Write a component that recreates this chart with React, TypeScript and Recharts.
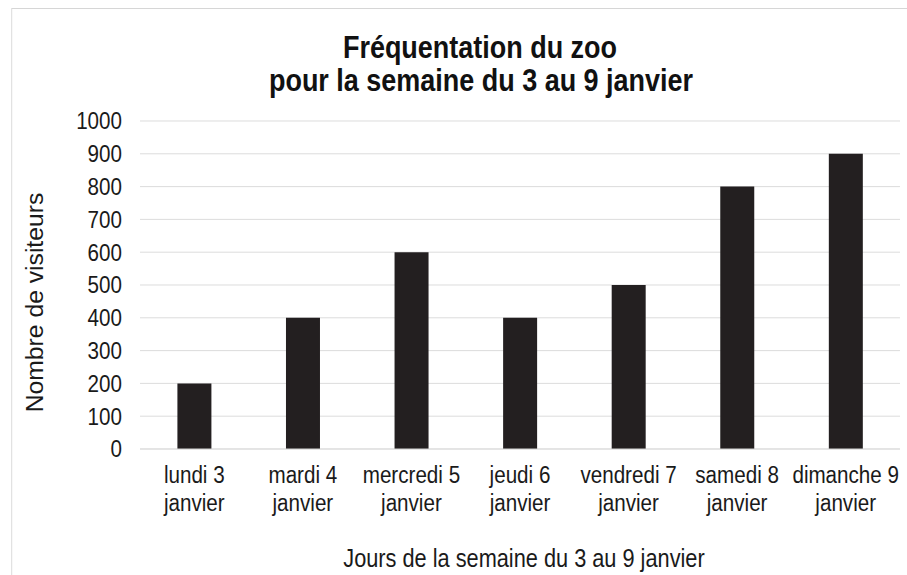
import React from "react";
import { BarChart, Bar, XAxis, YAxis, CartesianGrid } from "recharts";

const categories = [
  "lundi 3 janvier",
  "mardi 4 janvier",
  "mercredi 5 janvier",
  "jeudi 6 janvier",
  "vendredi 7 janvier",
  "samedi 8 janvier",
  "dimanche 9 janvier",
];
const visitors = [200, 400, 600, 400, 500, 800, 900];
const yTicks = [0, 100, 200, 300, 400, 500, 600, 700, 800, 900, 1000];

const titleLine1 = "Fréquentation du zoo";
const titleLine2 = "pour la semaine du 3 au 9 janvier";
const yLabel = "Nombre de visiteurs";
const xLabel = "Jours de la semaine du 3 au 9 janvier";

const data = categories.map((c, i) => ({ day: c, value: visitors[i] }));

const FONT = "'Liberation Sans', Arial, sans-serif";
const SX = 0.87; // horizontal squeeze of the reference picture
const W = 907 / SX;
const H = 575;
const TXT = "#1a1a1a";

const XTick = (props: any) => {
  const { x, y, payload } = props;
  const s: string = payload.value;
  const idx = s.lastIndexOf(" ");
  const l1 = s.slice(0, idx);
  const l2 = s.slice(idx + 1);
  return (
    <text x={x} y={y} textAnchor="middle" fill={TXT} fontSize={23.7} fontFamily={FONT}>
      <tspan x={x} dy={34}>{l1}</tspan>
      <tspan x={x} dy={28}>{l2}</tspan>
    </text>
  );
};

export default function App() {
  return (
    <div style={{ position: "absolute", left: 0, top: 0, width: 907, height: 575, background: "#fff", overflow: "hidden" }}>
      <div
        style={{
          position: "absolute",
          left: 0,
          top: 0,
          width: W,
          height: H,
          transform: `scaleX(${SX})`,
          transformOrigin: "0 0",
        }}
      >
        <div
          style={{
            position: "absolute",
            left: 11 / SX,
            top: 8,
            width: W + 50,
            height: H + 50,
            border: "1px solid #d6d6d6",
            boxSizing: "border-box",
          }}
        />
        <div style={{ position: "absolute", left: 0, top: 0 }}>
          <BarChart width={W} height={H} data={data} margin={{ top: 121, right: W - 900 / SX, bottom: 0, left: 0 }}>
            <CartesianGrid vertical={false} stroke="#d9d9d9" />
            <XAxis
              dataKey="day"
              interval={0}
              height={126}
              tickLine={false}
              tickSize={0}
              tickMargin={0}
              axisLine={{ stroke: "#d9d9d9" }}
              tick={<XTick />}
            />
            <YAxis
              domain={[0, 1000]}
              ticks={yTicks}
              width={140 / SX}
              axisLine={false}
              tickLine={false}
              tickSize={0}
              tickMargin={140 / SX - 122 / SX}
              tick={{ fill: TXT, fontSize: 23.7, fontFamily: FONT }}
            />
            <Bar dataKey="value" fill="#231f20" barSize={34 / SX} isAnimationActive={false} />
          </BarChart>
        </div>
        <svg width={W} height={H} style={{ position: "absolute", left: 0, top: 0, pointerEvents: "none" }}>
          <text x={480 / SX} y={58} textAnchor="middle" fontFamily={FONT} fontWeight="bold" fontSize={31} fill="#111">
            {titleLine1}
          </text>
          <text x={481 / SX} y={91} textAnchor="middle" fontFamily={FONT} fontWeight="bold" fontSize={31} fill="#111">
            {titleLine2}
          </text>
          <text
            x={0}
            y={0}
            transform={`translate(${43 / SX}, 302.5) scale(${1 / SX}, 1) rotate(-90)`}
            textAnchor="middle"
            fontFamily={FONT}
            fontSize={24.7}
            fill={TXT}
          >
            {yLabel}
          </text>
          <text x={524 / SX} y={567} textAnchor="middle" fontFamily={FONT} fontSize={25} fill={TXT}>
            {xLabel}
          </text>
        </svg>
      </div>
    </div>
  );
}
